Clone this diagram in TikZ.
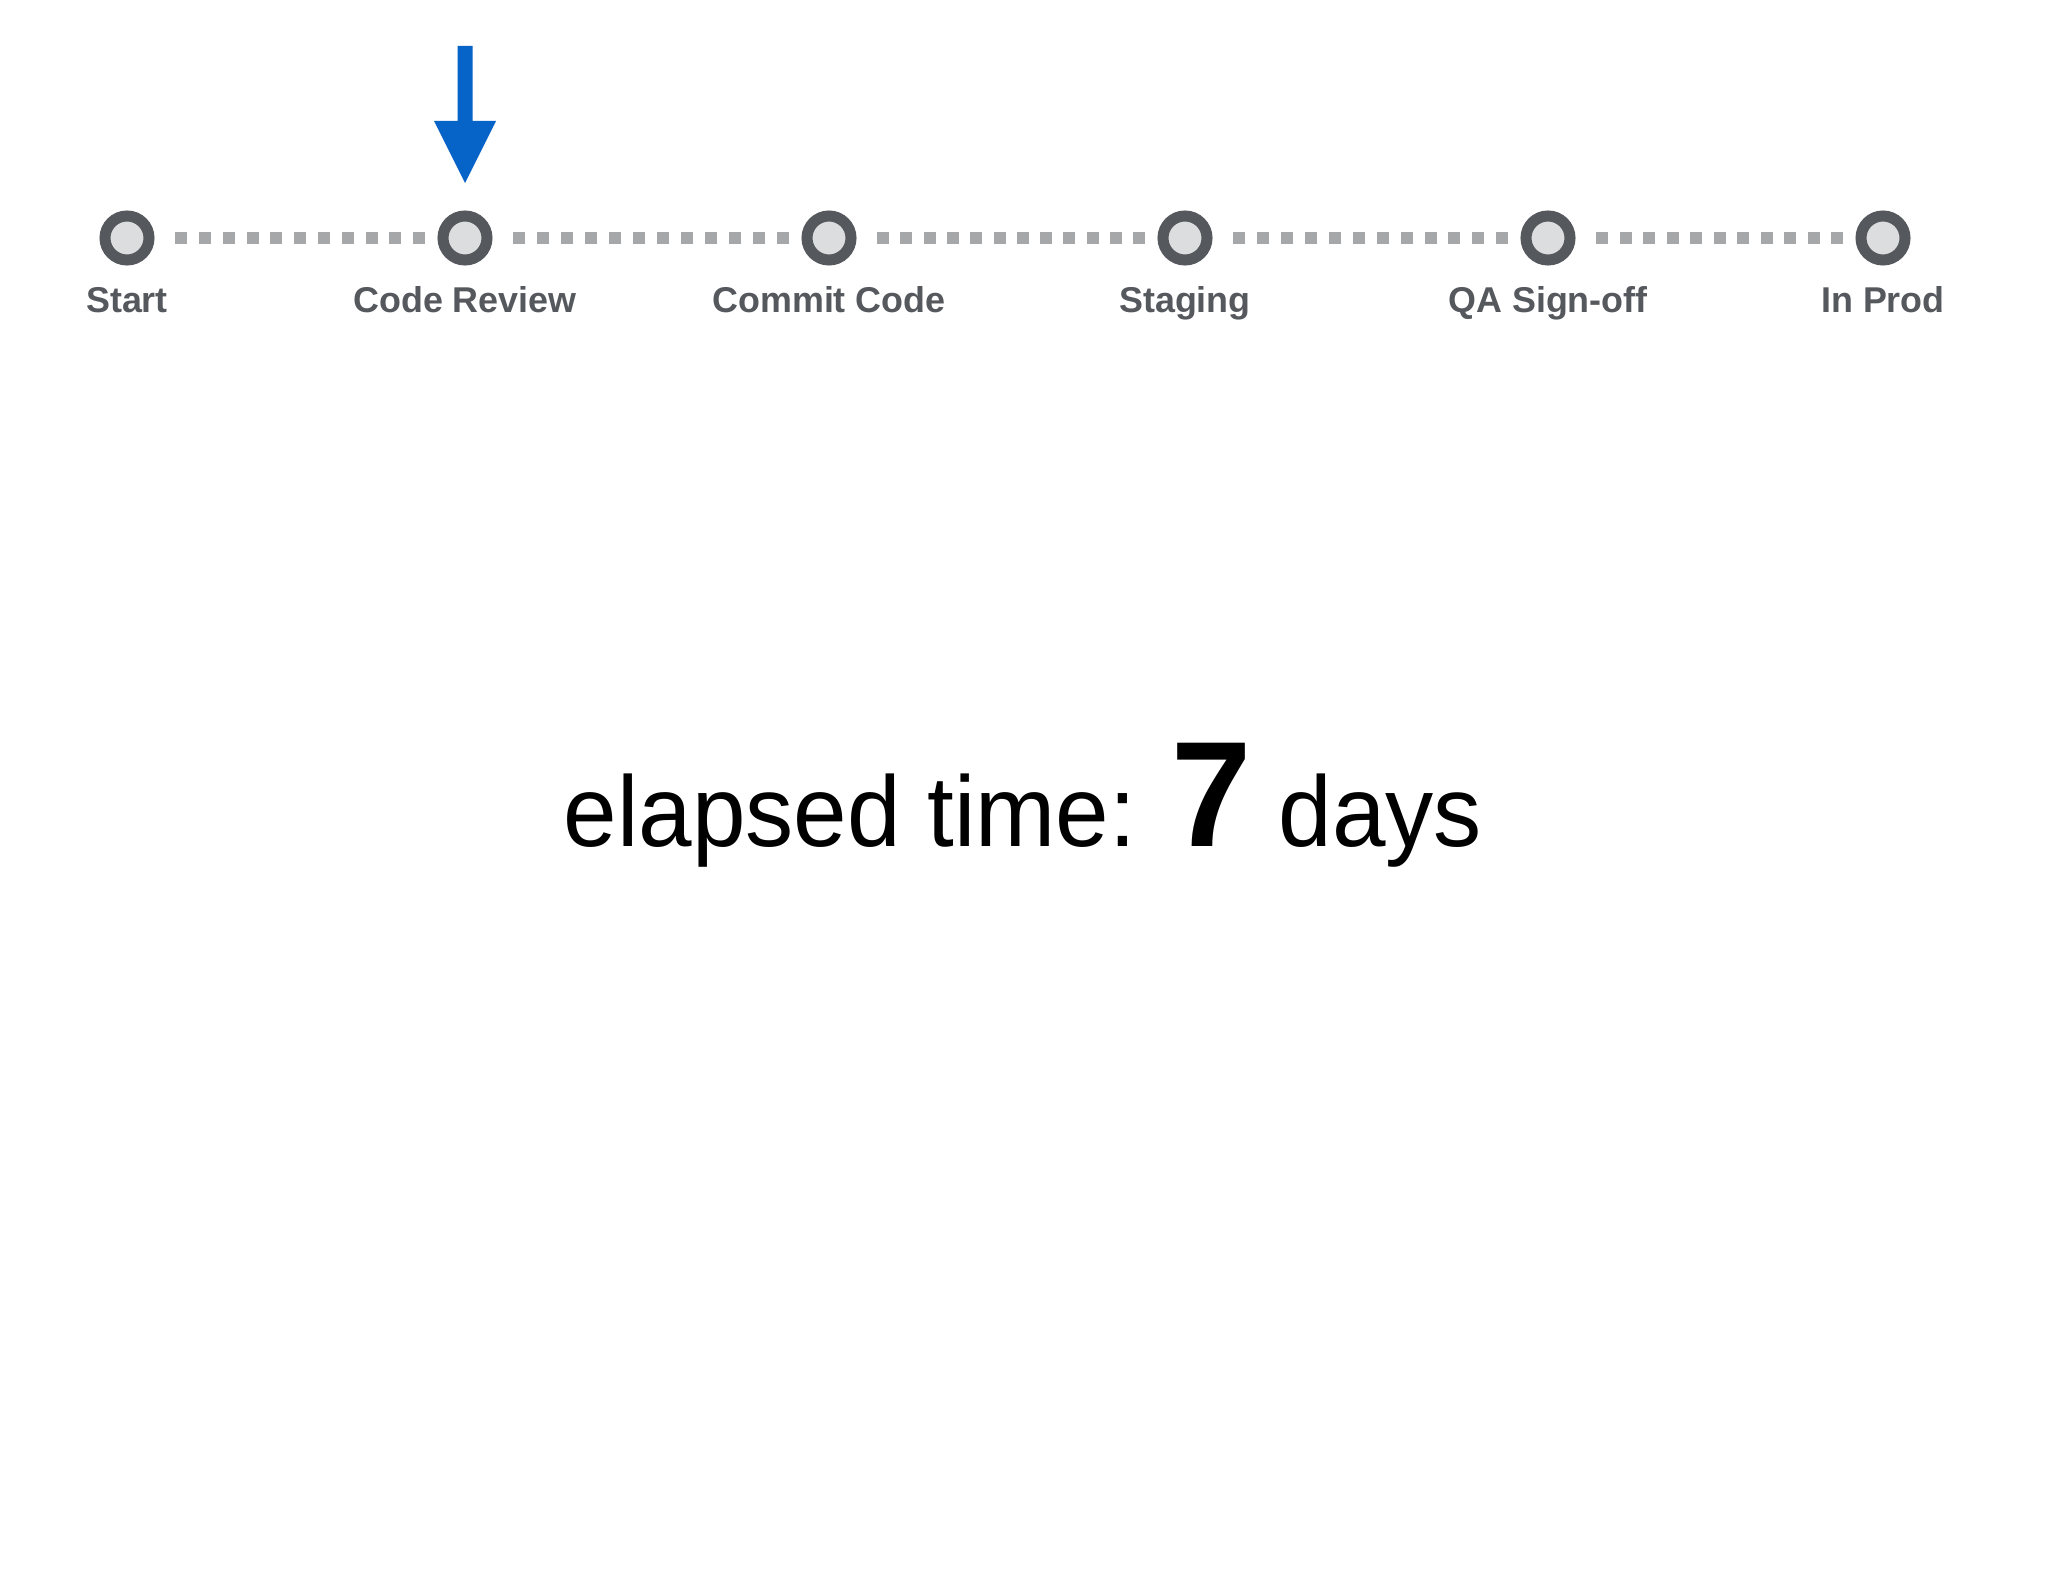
\documentclass[tikz,border=0pt]{standalone}
\usepackage{fontspec}
\setmainfont{Liberation Sans}
\newfontfamily\narrowfont[FakeStretch=0.96]{Liberation Sans}
\definecolor{ringc}{HTML}{55585D}
\definecolor{innerc}{HTML}{DCDDDF}
\definecolor{dotc}{HTML}{A6A7A9}
\definecolor{labelc}{HTML}{55585D}
\definecolor{arrowc}{HTML}{0664C8}
\begin{document}
\begin{tikzpicture}[x=0.01cm,y=-0.01cm,
  stage/.style={circle, draw=ringc, fill=innerc, line width=0.11cm, minimum size=0.44cm, inner sep=0pt},
  stagelabel/.style={anchor=base, text=labelc, font=\fontsize{10.2}{12}\selectfont\bfseries, inner sep=0pt},
  dots/.style={draw=dotc, line width=0.12cm, dash pattern=on 0.12cm off #1, shorten <=0.205cm, shorten >=0.125cm}]
\useasboundingbox (0,0) rectangle (2048,1582);
\fill[white] (0,0) rectangle (2048,1582);

\node[stage] (s1) at (127,238) {};
\node[stage] (s2) at (465,238) {};
\node[stage] (s3) at (829,238) {};
\node[stage] (s4) at (1185,238) {};
\node[stage] (s5) at (1548,238) {};
\node[stage] (s6) at (1883,238) {};

\node[stagelabel] (l1) at (127,313) {Start};
\node[stagelabel] (l2) at (465,313) {Code Review};
\node[stagelabel] (l3) at (829,313) {Commit Code};
\node[stagelabel] (l4) at (1185,313) {Staging};
\node[stagelabel] (l5) at (1548,313) {QA Sign-off};
\node[stagelabel] (l6) at (1883,313) {In Prod};

\draw[dots=0.1181cm] (s1.east) -- (s2.west);
\draw[dots=0.1201cm] (s2.east) -- (s3.west);
\draw[dots=0.1128cm] (s3.east) -- (s4.west);
\draw[dots=0.1192cm] (s4.east) -- (s5.west);
\draw[dots=0.1151cm] (s5.east) -- (s6.west);

% pointer arrow
\coordinate (tip) at (465,183);
\fill[arrowc] (457.5,46) -- (472.5,46) -- (472.5,121) -- (496,121) -- (tip) -- (434,121) -- (457.5,121) -- cycle;

\node[anchor=base, inner sep=0pt, font=\narrowfont\fontsize{28.5}{32}\selectfont] (et) at (1023,846)
  {elapsed time: {\fontsize{42.7}{46}\selectfont\bfseries 7} days};
\end{tikzpicture}
\end{document}
